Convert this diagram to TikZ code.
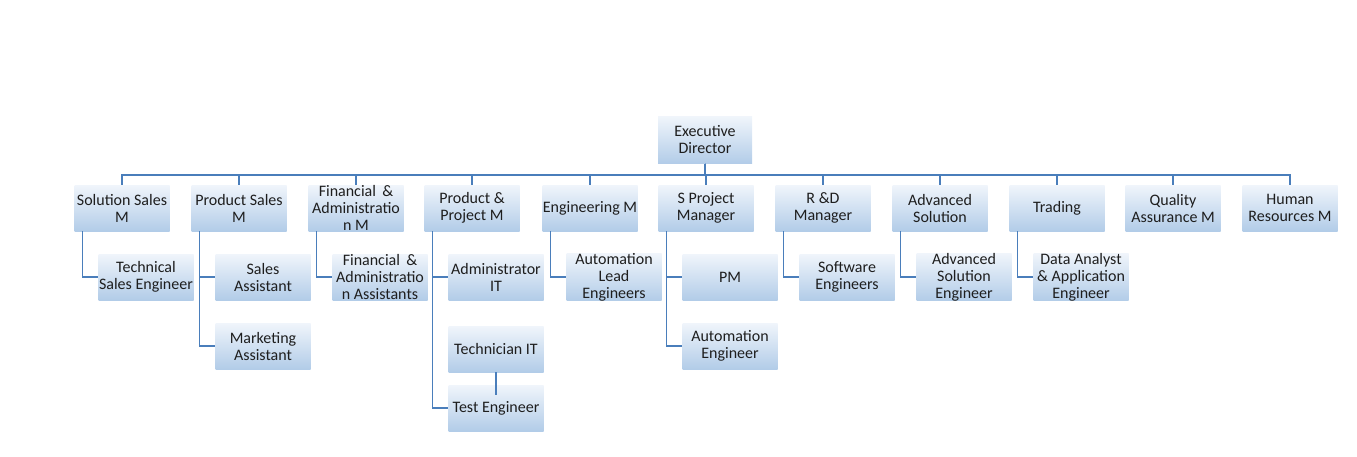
\documentclass[tikz,border=0pt]{standalone}
\usepackage{fontspec}
\setmainfont{Carlito}
\usepackage{tikz}
\usetikzlibrary{positioning, calc}

\definecolor{boxtop}{RGB}{240,245,251}
\definecolor{boxbottom}{RGB}{178,204,232}
\definecolor{linkblue}{RGB}{74,126,187}
\definecolor{boxtext}{RGB}{30,30,30}

\begin{document}
\begin{tikzpicture}[
    x=1pt, y=-1pt,
    % --- STYLES ---
    orgbox/.style={rectangle, minimum width=95pt, minimum height=46pt, inner sep=0pt, top color=boxtop, bottom color=boxbottom, text=boxtext, align=center, font=\fontsize{16}{17}\selectfont},
    link/.style={draw=linkblue, line width=1.4pt}
]
\useasboundingbox (0,0) rectangle (1357,456);

% --- 1. EXECUTIVE ---
\node[orgbox, minimum width=94pt, minimum height=47pt] (ED) at (705,140) {Executive\\Director};
\coordinate (BUS) at (0,175);

% --- 2. MANAGERS ---
\node[orgbox] (SSM) at (122,208) {Solution Sales\\M};
\node[orgbox] (PSM) at (239,208) {Product Sales\\M};
\node[orgbox] (FAM) at (356,208) {Financial \,\&\\Administratio\\n M};
\node[orgbox] (PPM) at (472,208) {Product \&\\Project M};
\node[orgbox] (ENG) at (590,208) {Engineering M};
\node[orgbox] (SPM) at (706,208) {S Project\\Manager};
\node[orgbox] (RDM) at (823,208) {R \&D\\Manager};
\node[orgbox] (ADV) at (940,208) {Advanced\\Solution};
\node[orgbox] (TRD) at (1057,208) {Trading};
\node[orgbox] (QAM) at (1173,208) {Quality\\Assurance M};
\node[orgbox] (HRM) at (1290,208) {Human\\Resources M};

% --- 3. STAFF ---
\node[orgbox] (TSE) at (146,277) {Technical\\Sales Engineer};
\node[orgbox] (SA) at (263,277) {Sales\\Assistant};
\node[orgbox] (MA) at (263,346) {Marketing\\Assistant};
\node[orgbox] (FAA) at (380,277) {Financial \,\&\\Administratio\\n Assistants};
\node[orgbox] (AIT) at (496,277) {Administrator\\IT};
\node[orgbox] (TIT) at (496,349) {Technician IT};
\node[orgbox] (TE) at (496,408) {Test Engineer};
\node[orgbox] (ALE) at (614,277) {Automation\\Lead\\Engineers};
\node[orgbox] (PM) at (730,277) {PM};
\node[orgbox] (AE) at (730,346) {Automation\\Engineer};
\node[orgbox] (SWE) at (847,277) {Software\\Engineers};
\node[orgbox] (ASE) at (964,277) {Advanced\\Solution\\Engineer};
\node[orgbox] (DAAE) at (1081,277) {Data Analyst\\\& Application\\Engineer};

% --- 4. CONNECTORS ---
\foreach \n in {SSM, PSM, FAM, PPM, ENG, SPM, RDM, ADV, TRD, QAM, HRM} {
    \draw[link] (ED.south) -- (ED.south |- BUS) -| (\n.north);
}
\draw[link] ([xshift=8pt]SSM.south west) |- (TSE.west);
\draw[link] ([xshift=8pt]PSM.south west) |- (SA.west);
\draw[link] ([xshift=8pt]PSM.south west) |- (MA.west);
\draw[link] ([xshift=8pt]FAM.south west) |- (FAA.west);
\draw[link] ([xshift=8pt]PPM.south west) |- (AIT.west);
\draw[link] ([xshift=8pt]PPM.south west) |- (TE.west);
\draw[link] (TIT.south) -- ([yshift=-10pt]TE.north);
\draw[link] ([xshift=8pt]ENG.south west) |- (ALE.west);
\draw[link] ([xshift=8pt]SPM.south west) |- (PM.west);
\draw[link] ([xshift=8pt]SPM.south west) |- (AE.west);
\draw[link] ([xshift=8pt]RDM.south west) |- (SWE.west);
\draw[link] ([xshift=8pt]ADV.south west) |- (ASE.west);
\draw[link] ([xshift=8pt]TRD.south west) |- (DAAE.west);

\end{tikzpicture}
\end{document}
